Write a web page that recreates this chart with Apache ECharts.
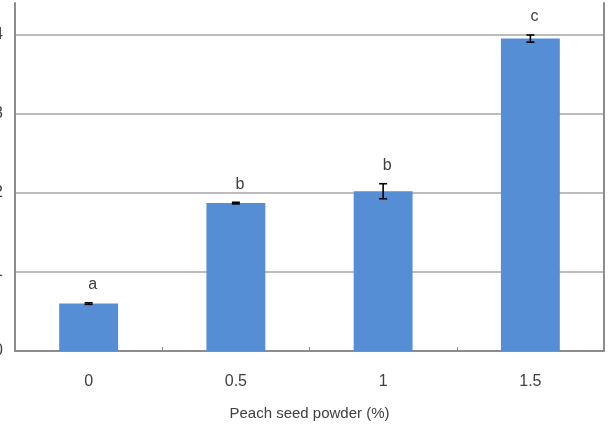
<!DOCTYPE html>
<html>
<head>
<meta charset="utf-8">
<script src="https://cdn.jsdelivr.net/npm/echarts@6/dist/echarts.min.js"></script>
<style>
  html, body { margin: 0; padding: 0; background: #fff; }
  #chart { width: 610px; height: 429px; }
</style>
</head>
<body>
<div id="chart"></div>
<script>
// 数据：桃仁粉添加量与测定值（纵轴刻度标签在原图中被裁掉）
const categories = ["0", "0.5", "1", "1.5"];
const means = [0.6, 1.87, 2.02, 3.95];
const errors = [0.01, 0.01, 0.095, 0.045];
const letters = ["a", "b", "b", "c"];
const xName = "Peach seed powder (%)";

const FONT = "'Liberation Sans', Arial, sans-serif";
const GRID_COLOR = "#a6a6a6";
const AXIS_COLOR = "#8c8c8c";

const chart = echarts.init(document.getElementById("chart"), null, { renderer: "canvas" });

chart.setOption({
  animation: false,
  backgroundColor: "#fff",
  // 原图纵轴标签被裁掉，所以不让 v6 自动收缩网格
  grid: { left: 15, right: 6, top: 3, bottom: 78, outerBoundsMode: "none", containLabel: false },
  xAxis: {
    type: "category",
    data: categories,
    name: xName,
    nameLocation: "middle",
    nameGap: 55,
    nameTextStyle: { fontFamily: FONT, fontSize: 15, color: "#404040" },
    axisLine: { lineStyle: { color: AXIS_COLOR, width: 2 } },
    axisTick: { show: true, inside: true, length: 4, lineStyle: { color: AXIS_COLOR } },
    axisLabel: { fontFamily: FONT, fontSize: 16, color: "#404040", margin: 23 },
  },
  yAxis: [
    {
      type: "value",
      min: 0,
      max: 4.4,
      interval: 1,
      axisLine: { show: true, lineStyle: { color: AXIS_COLOR, width: 2 } },
      axisTick: { show: false },
      axisLabel: { fontFamily: FONT, fontSize: 16, color: "#404040", margin: 12, showMaxLabel: false },
      splitLine: { show: true, showMaxLine: false, lineStyle: { color: GRID_COLOR, width: 1.5 } },
    },
    {
      type: "value",
      position: "right",
      min: 0,
      max: 4.4,
      axisLine: { show: true, lineStyle: { color: AXIS_COLOR, width: 2 } },
      axisTick: { show: false },
      axisLabel: { show: false },
      splitLine: { show: false },
    },
  ],
  series: [
    {
      type: "bar",
      data: means,
      barWidth: "40%",
      itemStyle: { color: "#558ed5" },
    },
    {
      // 误差线 + 显著性字母
      type: "custom",
      z: 5,
      data: means.map((m, i) => [i, m - errors[i], m + errors[i]]),
      renderItem: function (params, api) {
        const x = api.value(0);
        const lo = api.coord([x, api.value(1)]);
        const hi = api.coord([x, api.value(2)]);
        const cap = 4;
        const style = { stroke: "#000", lineWidth: 1.6 };
        return {
          type: "group",
          children: [
            { type: "line", shape: { x1: lo[0], y1: lo[1], x2: hi[0], y2: hi[1] }, style: style },
            { type: "line", shape: { x1: lo[0] - cap, y1: lo[1], x2: lo[0] + cap, y2: lo[1] }, style: style },
            { type: "line", shape: { x1: hi[0] - cap, y1: hi[1], x2: hi[0] + cap, y2: hi[1] }, style: style },
            {
              type: "text",
              x: hi[0] + 4,
              y: hi[1] - 18,
              style: {
                text: letters[params.dataIndex],
                fontFamily: FONT,
                fontSize: 16,
                fill: "#404040",
                align: "center",
                verticalAlign: "middle",
              },
            },
          ],
        };
      },
    },
  ],
});
</script>
</body>
</html>
